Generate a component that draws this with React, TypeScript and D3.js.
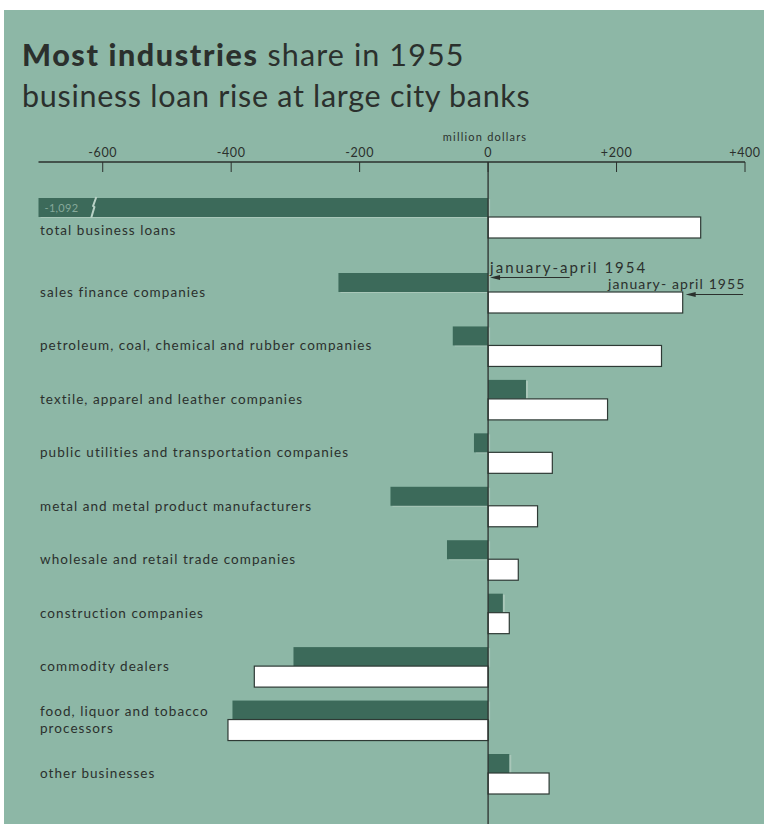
import React from "react";
import * as d3 from "d3";

const categories: string[][] = [
  ["total business loans"],
  ["sales finance companies"],
  ["petroleum, coal, chemical and rubber companies"],
  ["textile, apparel and leather companies"],
  ["public utilities and transportation companies"],
  ["metal and metal product manufacturers"],
  ["wholesale and retail trade companies"],
  ["construction companies"],
  ["commodity dealers"],
  ["food, liquor and tobacco", "processors"],
  ["other businesses"],
];
const jan1954: number[] = [-1092, -233, -55, 59, -22, -152, -64, 23, -303, -398, 33];
const jan1955: number[] = [331, 303, 270, 186, 100, 77, 47, 33, -364, -405, 95];
const tickValues: number[] = [-600, -400, -200, 0, 200, 400];
const tickLabels: string[] = ["-600", "-400", "-200", "0", "+200", "+400"];
const seriesLabels: string[] = ["january-april 1954", "january- april 1955"];

const W = 764;
const H = 824;
const BG = "#8db7a6";
const DARK = "#3c6a5a";
const INK = "#2b302d";
const FONT = "Lato, 'Open Sans', sans-serif";

export default function App() {
  const x = d3.scaleLinear().domain([-700, 400]).range([38.5, 745]);
  const yReg = d3.scaleLinear().domain([1, 10]).range([292, 773]);
  const rowY = (i: number) => (i === 0 ? yReg(1) - 75 : yReg(i));
  const x0 = x(0);
  const axisY = 162;
  const darkH = 19;
  const whiteH = 21;
  const [dmin] = x.domain();

  const arrow = (xTip: number, xTail: number, y: number) => (
    <g>
      <line x1={xTail} x2={xTip + 6} y1={y} y2={y} stroke={INK} strokeWidth={1} />
      <path d={`M${xTip},${y} L${xTip + 10},${y - 2.6} L${xTip + 10},${y + 2.6} Z`} fill={INK} />
    </g>
  );

  return (
    <svg
      width={W}
      height={H}
      style={{ position: "absolute", left: 0, top: 0, display: "block" }}
      fontFamily={FONT}
    >
      <rect x={0} y={0} width={W} height={H} fill="#ffffff" />
      <rect x={4} y={10} width={W - 4} height={H - 10} fill={BG} />

      {/* title */}
      <text x={22} y={66} fontSize={30.5} fill={INK} letterSpacing={0.8}>
        <tspan fontWeight={900} letterSpacing={1.6}>Most industries</tspan>
        <tspan letterSpacing={1.1}> share in 1955</tspan>
      </text>
      <text x={22} y={107} fontSize={30.5} fill={INK} letterSpacing={0.7}>
        business loan rise at large city banks
      </text>

      {/* axis */}
      <text x={x0 - 3} y={141} fontSize={11} fill={INK} textAnchor="middle" letterSpacing={1.2}>
        million dollars
      </text>
      <line x1={x(-700)} x2={x(400)} y1={axisY} y2={axisY} stroke={INK} strokeWidth={1.3} />
      {tickValues.map((v, i) => (
        <g key={v}>
          <line x1={x(v)} x2={x(v)} y1={axisY} y2={axisY + 10} stroke={INK} strokeWidth={1} />
          <text x={x(v)} y={157} fontSize={12.5} fill={INK} textAnchor="middle" letterSpacing={0.6}>
            {tickLabels[i]}
          </text>
        </g>
      ))}

      {/* bars */}
      {categories.map((lab, i) => {
        const by = rowY(i);
        const v4 = Math.max(jan1954[i], dmin);
        const v5 = Math.max(jan1955[i], dmin);
        const dx = Math.min(x(v4), x0);
        const dw = Math.abs(x(v4) - x0);
        const wx = Math.min(x(v5), x0);
        const ww = Math.abs(x(v5) - x0);
        const labY = i === 0 ? by + 13 : by;
        return (
          <g key={i}>
            <rect x={dx + 2} y={by - darkH + 1} width={dw} height={darkH} fill="#a9c7b9" />
            <rect x={dx} y={by - darkH} width={dw} height={darkH} fill={DARK} />
            <rect x={wx} y={by} width={ww} height={whiteH} fill="#ffffff" stroke="#2e3a35" strokeWidth={1.2} />
            {jan1954[i] < dmin && (
              <g>
                <path
                  d={`M${x(-610)},${by - darkH - 1} L${x(-615)},${by - darkH + 8} L${x(-613)},${by - darkH + 9} L${x(-618)},${by + 1}`}
                  fill="none"
                  stroke="#b9d2c6"
                  strokeWidth={2}
                />
                <text x={x(dmin) + 6} y={by - 5} fontSize={11} fill="#86a99a" letterSpacing={0.3}>
                  {d3.format(",")(jan1954[i]).replace("−", "-")}
                </text>
              </g>
            )}
            {lab.map((l, k) => (
              <text
                key={k}
                x={40}
                y={lab.length > 1 ? labY + 1 + (k - 0.5) * 17 + 4 : labY + 5}
                fontSize={13.5}
                fill={INK}
                letterSpacing={1.05}
              >
                {l}
              </text>
            ))}
          </g>
        );
      })}

      {/* zero line */}
      <line x1={x0} x2={x0} y1={axisY} y2={H} stroke={INK} strokeWidth={1.3} />

      {/* annotations */}
      <text x={x0 + 2} y={273} fontSize={15} fill={INK} letterSpacing={2}>
        {seriesLabels[0]}
      </text>
      {arrow(x0 + 2, x(127), 277.5)}
      <text x={608} y={289} fontSize={14} fill={INK} letterSpacing={1.1}>
        {seriesLabels[1]}
      </text>
      {arrow(x(jan1955[1]) + 3, x(397), 294.5)}
    </svg>
  );
}
